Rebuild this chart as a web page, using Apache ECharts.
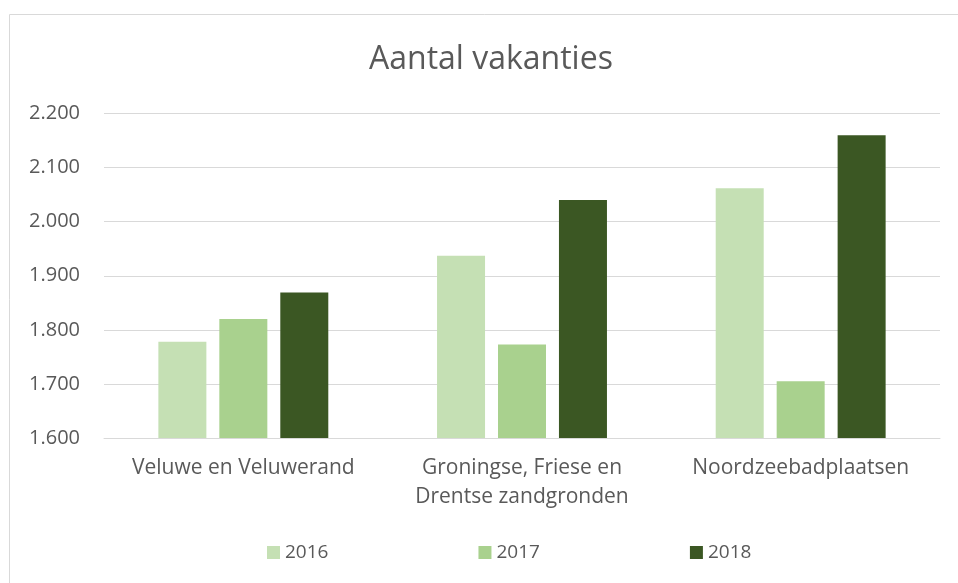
<!DOCTYPE html>
<html>
<head>
    <meta charset="utf-8">
    <title>Aantal vakanties</title>
    <script src="https://cdn.jsdelivr.net/npm/echarts@6/dist/echarts.min.js"></script>
    <style>
        html, body { margin: 0; padding: 0; background: #fff; }
    </style>
</head>
<body>
    <div id="main" style="width:958px;height:583px;"></div>
    <script type="text/javascript">
        // data
        var categories = ['Veluwe en Veluwerand', 'Groningse, Friese en\nDrentse zandgronden', 'Noordzeebadplaatsen'];
        var years = ['2016', '2017', '2018'];
        var data2016 = [1778, 1937, 2062];
        var data2017 = [1820, 1773, 1705];
        var data2018 = [1869, 2040, 2160];
        var colors = ['#c5e0b4', '#a9d18e', '#3b5723'];

        var textColor = '#595959';
        var fontFamily = '"Open Sans", "Noto Sans", sans-serif';

        var myChart = echarts.init(document.getElementById('main'));

        var option = {
            color: colors,
            textStyle: { fontFamily: fontFamily },
            title: {
                text: 'Aantal vakanties',
                left: 364,
                top: 39,
                textStyle: { color: textColor, fontSize: 32, fontWeight: 'normal', fontFamily: fontFamily }
            },
            graphic: [{
                type: 'rect',
                shape: { x: 9.5, y: 14.5, width: 960, height: 600 },
                style: { fill: 'none', stroke: '#d9d9d9', lineWidth: 1 },
                silent: true
            }],
            legend: {
                data: years,
                bottom: 16,
                left: 262,
                itemWidth: 13,
                itemHeight: 13,
                itemGap: 150,
                icon: 'rect',
                textStyle: { color: textColor, fontSize: 19, fontFamily: fontFamily }
            },
            grid: { left: 104, right: 18, top: 113.5, bottom: 145 },
            xAxis: {
                type: 'category',
                data: categories,
                axisTick: { show: false },
                axisLine: { lineStyle: { color: '#d9d9d9', width: 1 } },
                axisLabel: {
                    interval: 0,
                    hideOverlap: false,
                    color: textColor,
                    fontSize: 21,
                    lineHeight: 29,
                    margin: 16,
                    fontFamily: fontFamily
                }
            },
            yAxis: {
                type: 'value',
                min: 1600,
                max: 2200,
                interval: 100,
                axisLine: { show: false },
                axisTick: { show: false },
                splitLine: { lineStyle: { color: '#d9d9d9', width: 1 } },
                axisLabel: {
                    color: textColor,
                    fontSize: 20,
                    margin: 24,
                    fontFamily: fontFamily,
                    formatter: function (v) {
                        return String(v).replace(/\B(?=(\d{3})+(?!\d))/g, '.');
                    }
                }
            },
            series: [
                { name: years[0], type: 'bar', data: data2016, barWidth: 48, barGap: '27%' },
                { name: years[1], type: 'bar', data: data2017, barWidth: 48, barGap: '27%' },
                { name: years[2], type: 'bar', data: data2018, barWidth: 48, barGap: '27%' }
            ]
        };

        myChart.setOption(option);
    </script>
</body>
</html>
